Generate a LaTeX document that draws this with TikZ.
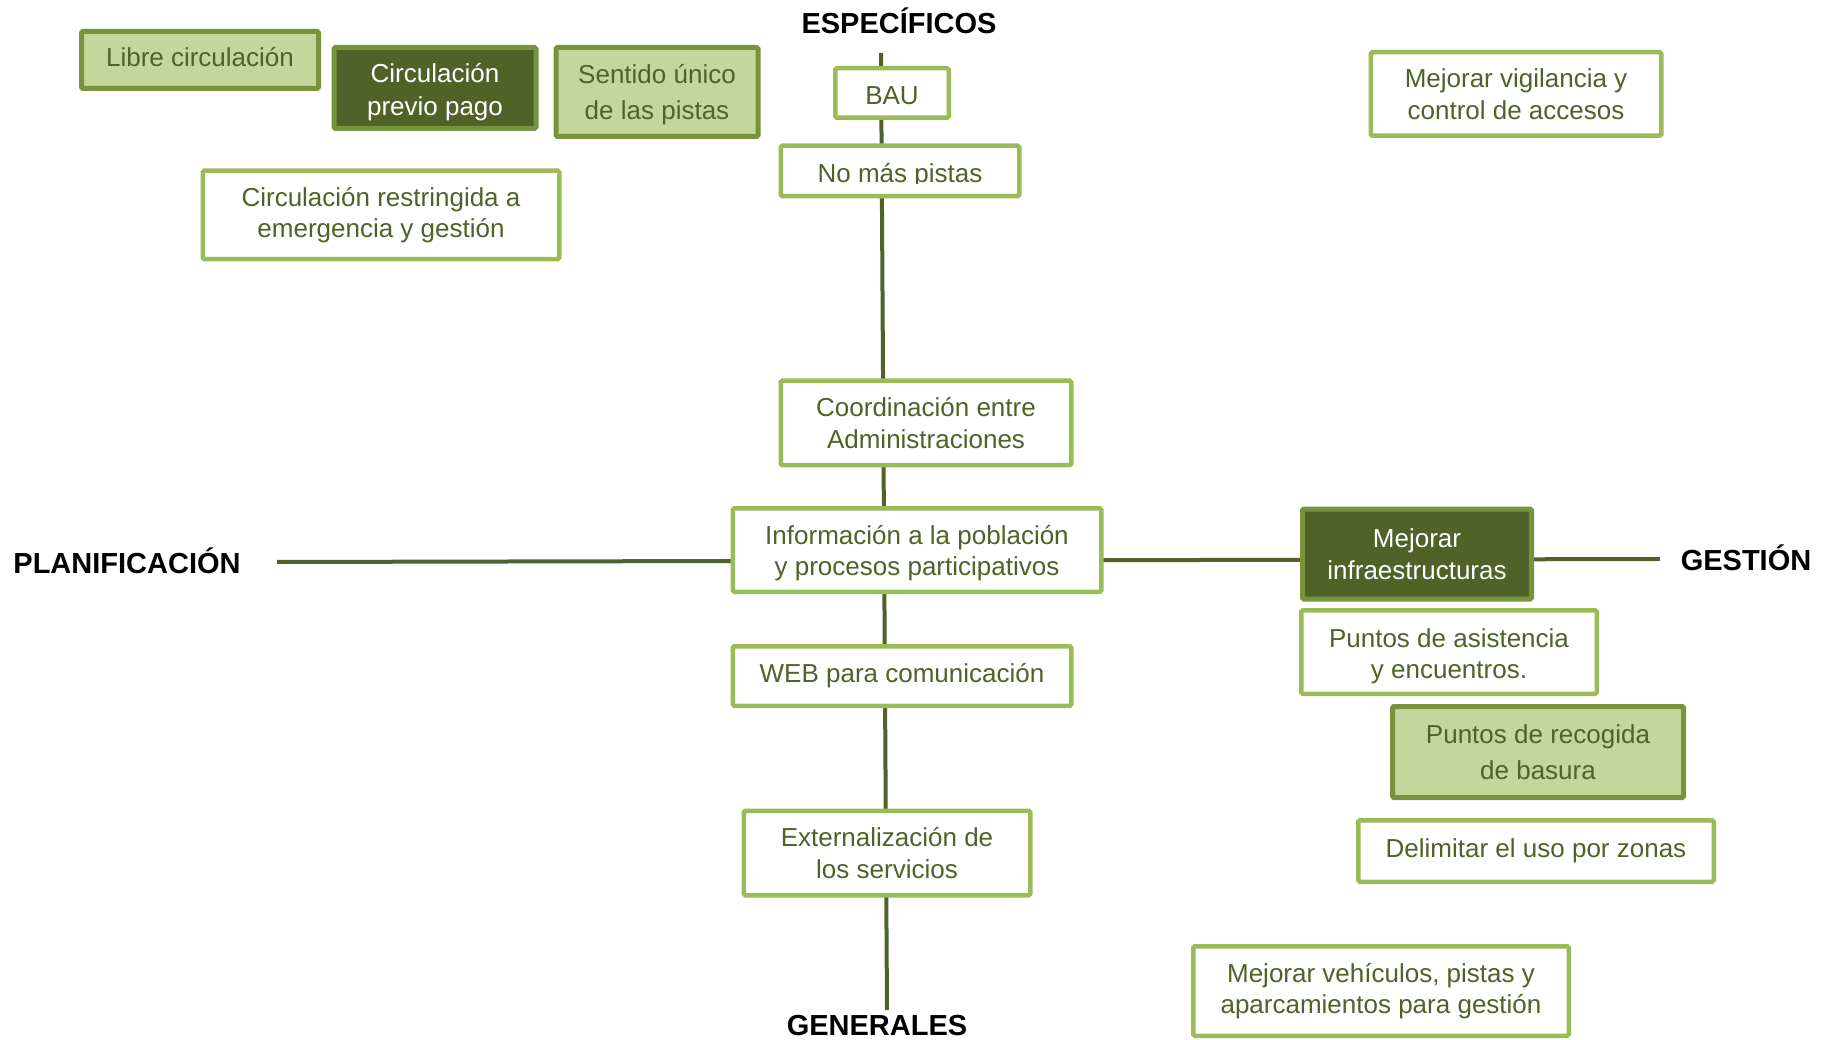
\documentclass[tikz,border=0pt]{standalone}
\usepackage{fontspec}
\setmainfont{Liberation Sans}
\definecolor{olivedark}{HTML}{4F6228}
\definecolor{olivemid}{HTML}{77933C}
\definecolor{olivelight}{HTML}{C3D69B}
\definecolor{oliveedge}{HTML}{9BBB59}
% centred lines shifted down (or up, for a negative amount) without changing the box size
\newcommand\lowerby[2]{\raisebox{-#1}[\height][\depth]{\begin{tabular}{@{}c@{}}#2\end{tabular}}}
\begin{document}
\begin{tikzpicture}[x=1pt,y=-1pt,
  box/.style={draw, line width=4.5pt, rounded corners=1.5pt, align=center,
    inner sep=0pt, font=\fontsize{26}{31.5}\selectfont},
  plainbox/.style={box, draw=oliveedge, fill=white, text=olivedark},
  lightbox/.style={box, draw=olivemid, fill=olivelight, text=olivedark, line width=5pt},
  darkbox/.style={box, draw=olivemid, fill=olivedark, text=white, line width=5pt},
  boxsize/.style 2 args={minimum width=#1, minimum height=#2},
  boxtext/.style={inner sep=0pt, text=olivedark, font=\fontsize{26}{31.5}\selectfont},
  axislabel/.style={font=\fontsize{29}{34}\selectfont\bfseries, text=black, inner sep=0pt},
  axisline/.style={draw=olivedark, line width=4pt}]
\useasboundingbox (0,0) rectangle (1824,1040);

% axis end points
\coordinate (vtop) at (881,53);
\coordinate (vbot) at (887,1010);
\coordinate (hleft) at (277,562);
\coordinate (hright) at (1660,559);

% the two axes, drawn behind the boxes
\draw[axisline] (vtop) -- (vbot);
\draw[axisline] (hleft) -- (hright);

% axis labels
\node[axislabel, anchor=base] (spec) at (899,34) {ESPECÍFICOS};
\node[axislabel, anchor=base] (gen) at (877,1035) {GENERALES};
\node[axislabel, anchor=base] (plan) at (127,573) {PLANIFICACIÓN};
\node[axislabel, anchor=base] (gest) at (1746,570) {GESTIÓN};

% upper left group
\node[lightbox, boxsize={237}{57}] (libre) at (200,60) {\lowerby{0.5pt}{Libre circulación}};
\node[darkbox, boxsize={202}{81}, font=\fontsize{26}{33}\selectfont] (previo) at (435,88) {\lowerby{4.5pt}{Circulación\\previo pago}};
\node[lightbox, boxsize={202}{89}, font=\fontsize{26}{36}\selectfont] (sentido) at (657,92) {\lowerby{2pt}{Sentido único\\de las pistas}};
\node[plainbox, boxsize={356.5}{88.5}] (restr) at (381,215) {Circulación restringida a\\emergencia y gestión};

% vertical axis boxes
\node[plainbox, boxsize={113.5}{49.5}] (bau) at (892,93) {\lowerby{5.5pt}{BAU}};
\node[plainbox, boxsize={238.5}{50.5}] (nomas) at (900,171) {};
\begin{scope}
  \clip (779,145) rectangle (1019,184);
  \node[boxtext, anchor=base] (nomastext) at (900,183) {No más pistas};
\end{scope}
\node[plainbox, boxsize={290.5}{84.5}] (coord) at (926,423) {Coordinación entre\\Administraciones};
\node[plainbox, boxsize={368.5}{83.5}] (info) at (917,550) {\lowerby{3.5pt}{Información a la población\\y procesos participativos}};
\node[plainbox, boxsize={338.5}{59.5}] (web) at (902,676) {WEB para comunicación};
\node[plainbox, boxsize={286.5}{84.5}] (ext) at (887,853) {Externalización de\\los servicios};

% upper right
\node[plainbox, boxsize={290.5}{83.5}] (vigil) at (1516,94) {Mejorar vigilancia y\\control de accesos};

% management group
\node[darkbox, boxsize={229}{90}] (infra) at (1417,554) {Mejorar\\infraestructuras};
\node[plainbox, boxsize={295.5}{83.5}] (asist) at (1449,652) {\lowerby{4.5pt}{Puntos de asistencia\\y encuentros.}};
\node[lightbox, boxsize={291}{91}, font=\fontsize{26}{36}\selectfont] (recog) at (1538,752) {Puntos de recogida\\de basura};
\node[plainbox, boxsize={355.5}{61.5}] (delim) at (1536,851) {Delimitar el uso por zonas};
\node[plainbox, boxsize={375.5}{89.5}] (vehic) at (1381,991) {Mejorar vehículos, pistas y\\aparcamientos para gestión};
\end{tikzpicture}
\end{document}
